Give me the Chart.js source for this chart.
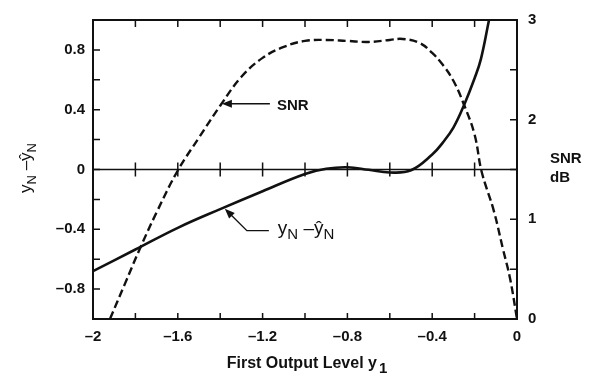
<!DOCTYPE html>
<html>
<head>
<meta charset="utf-8">
<script src="https://cdn.jsdelivr.net/npm/chart.js@4"></script>
<style>
  html, body { margin: 0; padding: 0; background: #fff; }
  #wrap { width: 595px; height: 379px; }
</style>
</head>
<body>
<div id="wrap"><canvas id="snrChart" width="595" height="379"></canvas></div>
<script>
// error curve y_N - ŷ_N (left axis)
const errX = [-2, -1.8, -1.6, -1.4, -1.2, -1.0, -0.9, -0.8, -0.7, -0.6, -0.5, -0.4, -0.35, -0.3, -0.25, -0.2, -0.17, -0.132];
const errY = [-0.68, -0.535, -0.39, -0.265, -0.145, -0.03, 0.005, 0.015, -0.002, -0.02, -0.005, 0.10, 0.18, 0.28, 0.43, 0.61, 0.74, 1.0];

// SNR in dB (right axis)
const snrX = [-1.92, -1.85, -1.78, -1.7, -1.6, -1.5, -1.4, -1.3, -1.2, -1.1, -1.0, -0.9, -0.8, -0.7, -0.6, -0.54, -0.46, -0.4, -0.35, -0.3, -0.25, -0.2, -0.167, -0.11, -0.066, -0.033, 0];
const snrY = [0, 0.35, 0.70, 1.07, 1.49, 1.82, 2.14, 2.43, 2.62, 2.73, 2.79, 2.80, 2.79, 2.78, 2.80, 2.81, 2.77, 2.67, 2.55, 2.39, 2.15, 1.85, 1.48, 1.09, 0.70, 0.41, 0];

// tick labels
const xLabels = [-2, -1.6, -1.2, -0.8, -0.4, 0];
const yLabels = [-0.8, -0.4, 0, 0.4, 0.8];
const y2Labels = [0, 1, 2, 3];

const FONT = '"Liberation Sans", Arial, sans-serif';

function fmt(v) {
    const r = Math.round(v * 10) / 10;
    if (r === 0) return '0';
    return (r < 0 ? '\u2013' : '') + String(Math.abs(r));
}
function hasLabel(list, v) {
    return list.some(l => Math.abs(l - v) < 1e-6);
}

function arrowHead(ctx, x1, y1, x2, y2) {
    // filled head at (x2,y2) pointing from (x1,y1)
    const a = Math.atan2(y2 - y1, x2 - x1);
    const len = 10, w = 4;
    ctx.beginPath();
    ctx.moveTo(x2, y2);
    ctx.lineTo(x2 - len * Math.cos(a) + w * Math.sin(a), y2 - len * Math.sin(a) - w * Math.cos(a));
    ctx.lineTo(x2 - len * Math.cos(a) - w * Math.sin(a), y2 - len * Math.sin(a) + w * Math.cos(a));
    ctx.closePath();
    ctx.fill();
}

function drawErrLabel(ctx, x, y, big, small, centered) {
    const parts = [['y', big, 0], ['N', small, 5], [' \u2013', big, 0], ['\u0177', big, 0], ['N', small, 5]];
    let total = 0;
    parts.forEach(p => { ctx.font = p[1] + 'px ' + FONT; total += ctx.measureText(p[0]).width; });
    let px = centered ? x - total / 2 : x;
    ctx.textAlign = 'left';
    parts.forEach(p => {
        ctx.font = p[1] + 'px ' + FONT;
        ctx.fillText(p[0], px, y + p[2]);
        px += ctx.measureText(p[0]).width;
    });
}

// draws frame, inward ticks, titles and the two callouts
const decor = {
    id: 'decor',
    afterDraw(chart) {
        const ctx = chart.ctx;
        const ca = chart.chartArea;
        const sx = chart.scales.x, sy = chart.scales.y, sy2 = chart.scales.y2;
        ctx.save();
        ctx.strokeStyle = '#111';
        ctx.fillStyle = '#111';

        // frame
        ctx.lineWidth = 2;
        ctx.strokeRect(ca.left, ca.top, ca.right - ca.left, ca.bottom - ca.top);

        // zero line
        const y0 = sy.getPixelForValue(0);
        ctx.lineWidth = 1.4;
        ctx.beginPath();
        ctx.moveTo(ca.left, y0);
        ctx.lineTo(ca.right, y0);
        ctx.stroke();

        // ticks
        ctx.lineWidth = 1.5;
        ctx.beginPath();
        sx.ticks.forEach(t => {
            const px = sx.getPixelForValue(t.value);
            if (px <= ca.left + 1 || px >= ca.right - 1) return;
            ctx.moveTo(px, ca.top); ctx.lineTo(px, ca.top + 7);
            ctx.moveTo(px, ca.bottom); ctx.lineTo(px, ca.bottom - 6);
            ctx.moveTo(px, y0 - 7); ctx.lineTo(px, y0 + 7);
        });
        sy.ticks.forEach(t => {
            const py = sy.getPixelForValue(t.value);
            if (py <= ca.top + 1 || py >= ca.bottom - 1) return;
            ctx.moveTo(ca.left, py); ctx.lineTo(ca.left + 7, py);
        });
        sy2.ticks.forEach(t => {
            const py = sy2.getPixelForValue(t.value);
            if (py <= ca.top + 1 || py >= ca.bottom - 1) return;
            ctx.moveTo(ca.right, py); ctx.lineTo(ca.right - 7, py);
        });
        ctx.stroke();

        ctx.textBaseline = 'alphabetic';

        // x title
        ctx.font = 'bold 16px ' + FONT;
        const xt = 'First Output Level y';
        const wx = ctx.measureText(xt).width;
        ctx.font = 'bold 15px ' + FONT;
        const w1 = ctx.measureText('1').width;
        const cx = (ca.left + ca.right) / 2 + 2;
        const tx = cx - (wx + w1 + 2) / 2;
        ctx.font = 'bold 16px ' + FONT;
        ctx.textAlign = 'left';
        ctx.fillText(xt, tx, 368);
        ctx.font = 'bold 15px ' + FONT;
        ctx.fillText('1', tx + wx + 2, 373);

        // right title
        ctx.font = 'bold 15px ' + FONT;
        ctx.fillText('SNR', ca.right + 33, 163);
        ctx.fillText('dB', ca.right + 33, 182);

        // left title, rotated
        ctx.save();
        ctx.translate(31, 168);
        ctx.rotate(-Math.PI / 2);
        drawErrLabel(ctx, 0, 0, 17, 13, true);
        ctx.restore();

        // SNR callout
        const sTipX = sx.getPixelForValue(-1.392), sTipY = sy2.getPixelForValue(2.16);
        const sEndX = sTipX + 48;
        ctx.lineWidth = 1.4;
        ctx.beginPath();
        ctx.moveTo(sEndX, sTipY); ctx.lineTo(sTipX + 6, sTipY);
        ctx.stroke();
        arrowHead(ctx, sEndX, sTipY, sTipX, sTipY);
        ctx.font = 'bold 15px ' + FONT;
        ctx.textAlign = 'left';
        ctx.fillText('SNR', sEndX + 7, sTipY + 6);

        // error callout
        const eTipX = sx.getPixelForValue(-1.378), eTipY = sy.getPixelForValue(-0.262);
        const eKneeX = eTipX + 22, eKneeY = eTipY + 22;
        const eEndX = eKneeX + 22;
        ctx.beginPath();
        ctx.moveTo(eEndX, eKneeY); ctx.lineTo(eKneeX, eKneeY); ctx.lineTo(eTipX + 4, eTipY + 4);
        ctx.stroke();
        arrowHead(ctx, eKneeX, eKneeY, eTipX, eTipY);
        drawErrLabel(ctx, eEndX + 9, eKneeY + 3, 19, 15, false);

        ctx.restore();
    }
};

const ctx = document.getElementById('snrChart').getContext('2d');
new Chart(ctx, {
    type: 'scatter',
    data: {
        datasets: [{
            label: 'y_N - ŷ_N',
            data: errX.map((x, i) => ({ x: x, y: errY[i] })),
            showLine: true,
            borderColor: '#111',
            borderWidth: 2.6,
            pointRadius: 0,
            tension: 0.4,
            yAxisID: 'y'
        }, {
            label: 'SNR',
            data: snrX.map((x, i) => ({ x: x, y: snrY[i] })),
            showLine: true,
            borderColor: '#111',
            borderWidth: 2.4,
            borderDash: [8, 4],
            pointRadius: 0,
            tension: 0.4,
            yAxisID: 'y2'
        }]
    },
    options: {
        responsive: false,
        animation: false,
        devicePixelRatio: 1,
        layout: { padding: { top: 10, left: 0, right: 0, bottom: 0 } },
        plugins: { legend: { display: false }, tooltip: { enabled: false } },
        scales: {
            x: {
                type: 'linear',
                min: -2, max: 0,
                grid: { display: false, drawTicks: false },
                border: { display: false },
                ticks: {
                    stepSize: 0.2,
                    padding: 9,
                    color: '#111',
                    font: { family: FONT, size: 15, weight: 'bold' },
                    autoSkip: false,
                    maxRotation: 0,
                    callback: v => hasLabel(xLabels, v) ? fmt(v) : ''
                },
                afterFit: s => { s.height = 60; }
            },
            y: {
                position: 'left',
                min: -1, max: 1,
                grid: { display: false, drawTicks: false },
                border: { display: false },
                ticks: {
                    stepSize: 0.2,
                    padding: 8,
                    color: '#111',
                    font: { family: FONT, size: 15, weight: 'bold' },
                    autoSkip: false,
                    callback: v => hasLabel(yLabels, v) ? fmt(v) : ''
                },
                afterFit: s => { s.width = 93; }
            },
            y2: {
                position: 'right',
                min: 0, max: 3,
                grid: { display: false, drawTicks: false },
                border: { display: false },
                ticks: {
                    stepSize: 0.5,
                    padding: 11,
                    color: '#111',
                    font: { family: FONT, size: 15, weight: 'bold' },
                    autoSkip: false,
                    callback: v => hasLabel(y2Labels, v) ? String(v) : ''
                },
                afterFit: s => { s.width = 78; }
            }
        }
    },
    plugins: [decor]
});
</script>
</body>
</html>
